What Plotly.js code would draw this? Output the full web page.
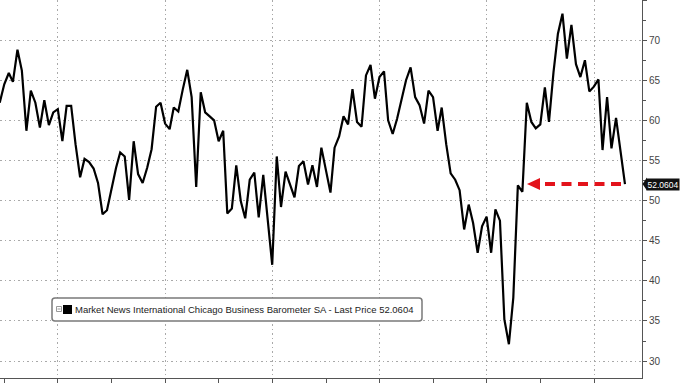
<!DOCTYPE html>
<html>
<head>
<meta charset="utf-8">
<script src="https://cdn.plot.ly/plotly-3.0.1.min.js"></script>
<style>
html, body { margin: 0; padding: 0; background: #ffffff; }
#chart { width: 680px; height: 383px; }
</style>
</head>
<body>
<div id="chart"></div>
<script>
// ---- data (monthly readings, plotted at month end) ----
const firstYear = 2010;
const firstMonth = 11; // November 2010
const pmiValues = [
  62.2,
  64.5, 65.9, 64.8, 68.8, 66.2, 58.7, 63.7, 62.2, 59.1, 62.5, 59.4, 61.0,
  61.4, 57.4, 61.8, 61.8, 57.0, 52.9, 55.2, 54.8, 54.0, 52.2, 48.3, 48.8,
  51.6, 54.1, 56.0, 55.5, 50.1, 57.4, 53.3, 52.2, 54.1, 56.4, 61.7, 62.2,
  59.6, 58.9, 61.6, 61.1, 63.8, 66.3, 62.9, 51.7, 63.5, 61.0, 60.5, 60.0,
  57.4, 58.7, 48.4, 49.0, 54.4, 49.9, 47.8, 52.6, 53.5, 47.9, 53.2, 47.8,
  42.0, 55.5, 49.2, 53.6, 52.0, 50.4, 54.3, 54.9, 52.0, 54.4, 51.7, 56.6,
  53.8, 51.0, 56.6, 58.0, 60.5, 59.5, 63.9, 59.8, 59.2, 65.6, 66.9, 62.7,
  65.4, 66.1, 60.0, 58.3, 60.2, 62.7, 65.0, 66.6, 62.9, 61.9, 59.6, 63.7,
  62.9, 58.7, 61.6, 57.0, 53.4, 52.6, 51.3, 46.4, 49.5, 47.2, 43.5, 46.8,
  48.0, 43.5, 48.9, 47.5, 35.2, 32.1, 37.9, 51.9, 51.1, 62.2, 59.8, 59.0,
  59.5, 64.1, 59.8, 66.0, 70.8, 73.3, 67.7, 71.9, 67.0, 65.4, 67.5, 63.6,
  64.2, 65.1, 56.3, 62.9, 56.5, 60.3, 56.0, 52.0604
];
const seriesName = 'Market News International Chicago Business Barometer SA - Last Price 52.0604';
const lastPriceLabel = '52.0604';

// ---- view settings ----
const xRange = ['2010-12-02', '2022-11-24'];
const yRange = [27.89, 75];
const arrowTip = '2020-10-01';
const arrowHeadBase = '2020-12-29';
const arrowShaftStart = '2021-02-01';
const arrowShaftEnd = '2022-07-18';

const dates = pmiValues.map((_, i) => {
  const d = new Date(Date.UTC(firstYear, firstMonth - 1 + i + 1, 0));
  return d.toISOString().slice(0, 10);
});
const lastValue = pmiValues[pmiValues.length - 1];

const plotW = 642, plotH = 378;
const unitPx = plotH / (yRange[1] - yRange[0]);
const headHalf = 6 / unitPx;
const yPaper = v => (v - yRange[0]) / (yRange[1] - yRange[0]);
const px2x = p => p / plotW;
const px2y = p => 1 - p / plotH;

const gridColor = '#a9a9a9';
const gridDash = '1.5px,3px';
const axisColor = '#555555';
const red = '#e3131b';

// legend box (rounded) in pixel space
const box = { x0: 52, x1: 422, y0: 298, y1: 321, r: 3 };
function roundedBoxPath(b) {
  const P = (x, y) => px2x(x) + ',' + px2y(y);
  return 'M ' + P(b.x0 + b.r, b.y0) +
    ' L ' + P(b.x1 - b.r, b.y0) + ' Q ' + P(b.x1, b.y0) + ' ' + P(b.x1, b.y0 + b.r) +
    ' L ' + P(b.x1, b.y1 - b.r) + ' Q ' + P(b.x1, b.y1) + ' ' + P(b.x1 - b.r, b.y1) +
    ' L ' + P(b.x0 + b.r, b.y1) + ' Q ' + P(b.x0, b.y1) + ' ' + P(b.x0, b.y1 - b.r) +
    ' L ' + P(b.x0, b.y0 + b.r) + ' Q ' + P(b.x0, b.y0) + ' ' + P(b.x0 + b.r, b.y0) + ' Z';
}
function pxRect(x0, y0, x1, y1, fill, lineColor, lineWidth) {
  return {
    type: 'rect', xref: 'paper', yref: 'paper', layer: 'above',
    x0: px2x(x0), x1: px2x(x1), y0: px2y(y1), y1: px2y(y0),
    fillcolor: fill, line: { color: lineColor, width: lineWidth }
  };
}

const traces = [
  {
    x: dates, y: pmiValues, type: 'scatter', mode: 'lines',
    line: { color: '#000000', width: 2.2 },
    showlegend: false, hoverinfo: 'skip'
  },
  {
    x: [null], y: [null], type: 'scatter', mode: 'markers',
    name: seriesName,
    marker: { symbol: 'square', size: 1, color: 'rgba(0,0,0,0)', line: { width: 0 } },
    showlegend: true, hoverinfo: 'skip'
  }
];

const tagTipY = yPaper(lastValue);
const layout = {
  width: 680, height: 383,
  margin: { l: 0, r: 38, t: 0, b: 5, pad: 0 },
  paper_bgcolor: '#ffffff', plot_bgcolor: '#ffffff',
  font: { family: 'Liberation Sans, Arial, sans-serif', size: 10, color: '#333333' },
  xaxis: {
    type: 'date', range: xRange, showticklabels: false,
    ticks: 'outside', ticklen: 5, tickwidth: 1, tickcolor: axisColor,
    dtick: 'M24', tick0: '2012-01-01',
    showgrid: true, gridcolor: gridColor, griddash: gridDash, gridwidth: 1,
    showline: true, linecolor: axisColor, linewidth: 1, zeroline: false,
    minor: { dtick: 'M12', tick0: '2011-01-01', ticks: 'outside', ticklen: 5, tickcolor: axisColor, showgrid: false },
    fixedrange: true
  },
  yaxis: {
    side: 'right', range: yRange, dtick: 5, tick0: 0,
    ticks: 'outside', ticklen: 4, tickwidth: 1, tickcolor: axisColor,
    showline: true, linecolor: axisColor, linewidth: 1,
    showgrid: true, gridcolor: gridColor, griddash: gridDash, gridwidth: 1,
    zeroline: false,
    minor: { dtick: 2.5, tick0: 0, ticks: 'outside', ticklen: 3, tickcolor: axisColor, showgrid: false },
    tickfont: { size: 10, color: '#444444' },
    fixedrange: true
  },
  showlegend: true,
  legend: {
    x: px2x(35), xanchor: 'left', y: px2y(309.5), yanchor: 'middle',
    orientation: 'h', bgcolor: 'rgba(0,0,0,0)', borderwidth: 0,
    font: { size: 9.5, color: '#222222' },
    itemwidth: 30
  },
  annotations: [
    {
      xref: 'paper', x: 1, xanchor: 'left', xshift: 4,
      yref: 'y', y: lastValue, yanchor: 'middle',
      text: lastPriceLabel, showarrow: false,
      bgcolor: '#111111', borderpad: 0.5,
      font: { size: 8.5, color: '#ffffff' }
    }
  ],
  shapes: [
    {
      type: 'path', xref: 'paper', yref: 'paper', layer: 'above',
      path: roundedBoxPath(box),
      fillcolor: '#ffffff', line: { color: '#7a7a7a', width: 1.5 }
    },
    // collapse icon and legend swatch
    pxRect(56.5, 306.5, 61.5, 311.5, '#ffffff', '#999999', 1),
    {
      type: 'line', xref: 'paper', yref: 'paper', layer: 'above',
      x0: px2x(57.5), x1: px2x(60.5), y0: px2y(309), y1: px2y(309),
      line: { color: '#999999', width: 1 }
    },
    pxRect(63, 305, 72, 314, '#000000', '#000000', 0),
    {
      type: 'path', xref: 'paper', yref: 'paper', layer: 'above',
      path: 'M ' + (1 + 0.5 / plotW) + ',' + tagTipY +
            ' L ' + (1 + 5 / plotW) + ',' + (tagTipY + 6.5 / plotH) +
            ' L ' + (1 + 5 / plotW) + ',' + (tagTipY - 6.5 / plotH) + ' Z',
      fillcolor: '#111111', line: { width: 0 }
    },
    {
      type: 'line', xref: 'x', yref: 'y', layer: 'above',
      x0: arrowShaftStart, x1: arrowShaftEnd, y0: lastValue, y1: lastValue,
      line: { color: red, width: 4, dash: '10px,6.5px' }
    },
    {
      type: 'path', xref: 'x', yref: 'y', layer: 'above',
      path: 'M' + arrowTip + ',' + lastValue +
            ' L' + arrowHeadBase + ',' + (lastValue + headHalf) +
            ' L' + arrowHeadBase + ',' + (lastValue - headHalf) + ' Z',
      fillcolor: red, line: { width: 0 }
    }
  ]
};

Plotly.newPlot('chart', traces, layout, { displayModeBar: false, staticPlot: true });
</script>
</body>
</html>
